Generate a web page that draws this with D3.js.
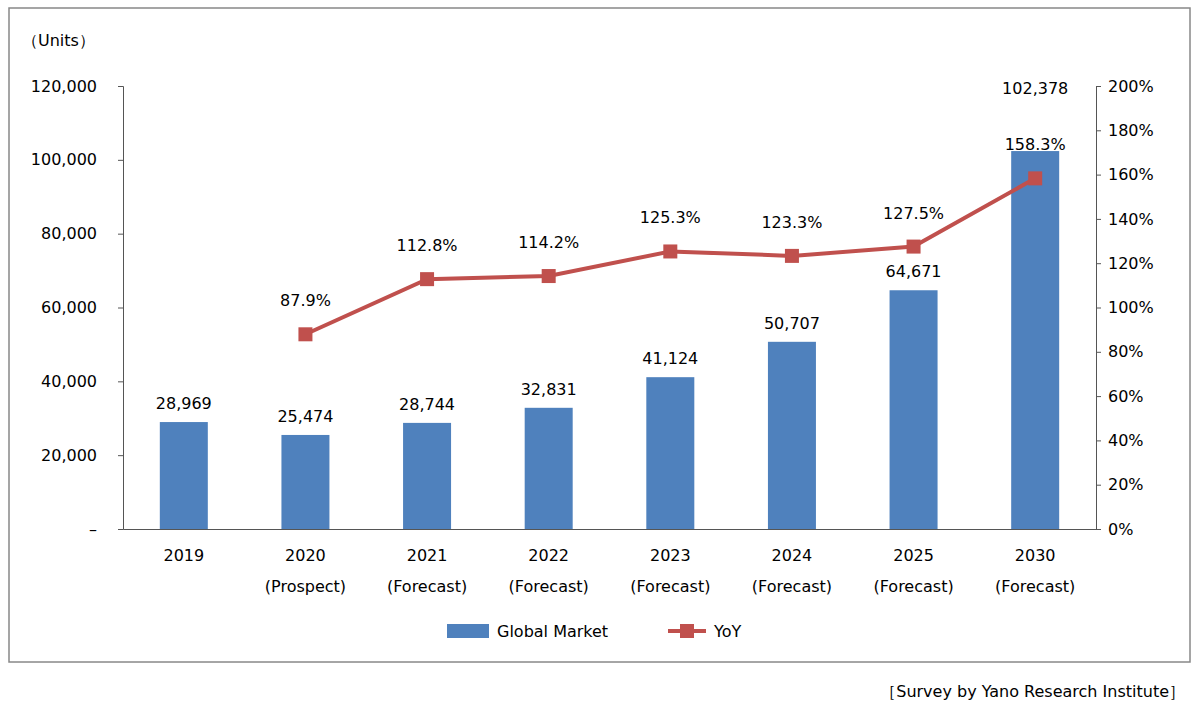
<!DOCTYPE html>
<html><head><meta charset="utf-8">
<script src="https://cdn.jsdelivr.net/npm/d3@7"></script>
<style>body{margin:0;background:#fff}text{font-family:"DejaVu Sans",sans-serif;fill:#000}</style>
</head><body><svg id="c" width="1200" height="711"></svg>
<script>
const years=["2019","2020","2021","2022","2023","2024","2025","2030"];
const subLabels=["","(Prospect)","(Forecast)","(Forecast)","(Forecast)","(Forecast)","(Forecast)","(Forecast)"];
const marketValues=[28969,25474,28744,32831,41124,50707,64671,102378];
const yoyValues=[null,87.9,112.8,114.2,125.3,123.3,127.5,158.3];
const leftTicks=[0,20000,40000,60000,80000,100000,120000];
const rightTicks=[0,20,40,60,80,100,120,140,160,180,200];

const svg=d3.select("#c");
svg.append("rect").attr("x",9).attr("y",8).attr("width",1181).attr("height",654).attr("fill","none").attr("stroke","#888").attr("stroke-width",1.5);
const L=123,R=1096,T=86,B=529;
const x=d3.scaleBand().domain(years).range([L,R]);
const y=d3.scaleLinear().domain([0,120000]).range([B,T]);
const y2=d3.scaleLinear().domain([0,200]).range([B,T]);
const fmt=d3.format(",");
const fs="16px";

const ga=svg.append("g").attr("transform",`translate(${L},0)`).call(d3.axisLeft(y).tickValues(leftTicks).tickSize(5).tickFormat(d=>d===0?"–":fmt(d)));
ga.selectAll("text").attr("x",-26).style("font-size",fs);
const gr=svg.append("g").attr("transform",`translate(${R},0)`).call(d3.axisRight(y2).tickValues(rightTicks).tickSize(5).tickFormat(d=>d+"%"));
gr.selectAll("text").attr("x",12).style("font-size",fs);
const gb=svg.append("g").attr("transform",`translate(0,${B})`).call(d3.axisBottom(x).tickSize(0).tickFormat(""));
[ga,gr,gb].forEach(g=>{g.selectAll("path,line").attr("stroke","#555");});

years.forEach((yr,i)=>{
  const cx=x(yr)+x.bandwidth()/2;
  svg.append("text").attr("x",cx).attr("y",561).attr("text-anchor","middle").style("font-size",fs).text(yr);
  if(subLabels[i])svg.append("text").attr("x",cx).attr("y",592).attr("text-anchor","middle").style("font-size",fs).text(subLabels[i]);
});
svg.append("text").attr("x",22).attr("y",46).style("font-size",fs).text("（Units）");

const bw=48;
svg.selectAll(".bar").data(marketValues).join("rect").attr("x",(d,i)=>x(years[i])+x.bandwidth()/2-bw/2)
 .attr("y",d=>y(d)).attr("width",bw).attr("height",d=>B-y(d)).attr("fill","#4f81bd");
svg.selectAll(".bl").data(marketValues).join("text").attr("x",(d,i)=>x(years[i])+x.bandwidth()/2)
 .attr("y",d=>d>=100000?94:y(d)-13).attr("text-anchor","middle").style("font-size",fs).text(d=>fmt(d));

const pts=yoyValues.map((v,i)=>({v,cx:x(years[i])+x.bandwidth()/2})).filter(d=>d.v!=null);
svg.append("path").datum(pts).attr("d",d3.line().x(d=>d.cx).y(d=>y2(d.v))).attr("fill","none").attr("stroke","#c0504d").attr("stroke-width",4);
svg.selectAll(".pt").data(pts).join("rect").attr("x",d=>d.cx-7).attr("y",d=>y2(d.v)-7).attr("width",14).attr("height",14).attr("fill","#c0504d");
svg.selectAll(".pl").data(pts).join("text").attr("x",d=>d.cx).attr("y",d=>y2(d.v)-28).attr("text-anchor","middle").style("font-size",fs).text(d=>d.v.toFixed(1)+"%");

svg.append("rect").attr("x",447).attr("y",624).attr("width",42).attr("height",14).attr("fill","#4f81bd");
svg.append("text").attr("x",497).attr("y",637).style("font-size",fs).text("Global  Market");
svg.append("line").attr("x1",668).attr("x2",706).attr("y1",631).attr("y2",631).attr("stroke","#c0504d").attr("stroke-width",4);
svg.append("rect").attr("x",680).attr("y",624).attr("width",14).attr("height",14).attr("fill","#c0504d");
svg.append("text").attr("x",714).attr("y",637).style("font-size",fs).text("YoY");
svg.append("text").attr("x",1185).attr("y",697).attr("text-anchor","end").style("font-size",fs).text("［Survey by Yano Research Institute］");
</script></body></html>
